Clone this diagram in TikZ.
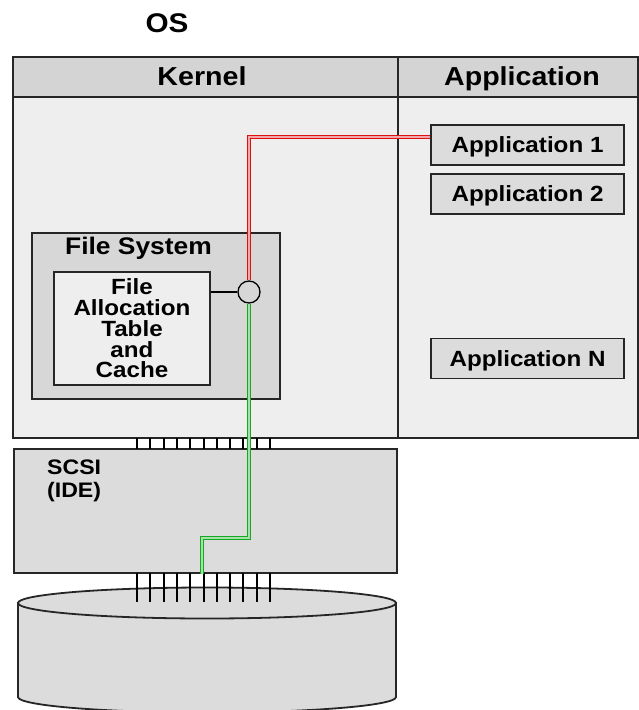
\documentclass[tikz,border=0pt]{standalone}
\usepackage{fontspec}
\setmainfont{Liberation Sans}[FakeStretch=1.1]
\usetikzlibrary{calc}
\definecolor{hdrc}{HTML}{D4D4D4}
\definecolor{bodyc}{HTML}{EEEEEE}
\definecolor{fsc}{HTML}{D7D7D7}
\definecolor{boxc}{HTML}{DCDCDC}
\definecolor{redo}{HTML}{DD1111}
\definecolor{redi}{HTML}{F2A8A8}
\definecolor{grno}{HTML}{11AA22}
\definecolor{grni}{HTML}{A8E0A8}
\tikzset{
  frame/.style={draw=black!85, line width=1.8pt},
  solidbox/.style={draw=black!85, line width=1.8pt, inner sep=0pt},
  appbox/.style={solidbox, fill=boxc, minimum width=193pt, minimum height=40pt,
    font=\fontsize{22}{26}\selectfont\bfseries, text height=15.8pt, text depth=0pt},
  hdrtext/.style={anchor=base, inner sep=0pt, font=\fontsize{26}{30}\selectfont\bfseries},
  tick/.style={draw=black, line width=2pt},
  redline/.style={draw=redo, line width=1.2pt, double=redi, double distance=1.9pt},
  grnline/.style={draw=grno, line width=1.2pt, double=grni, double distance=1.9pt}
}
\begin{document}
\begin{tikzpicture}[x=1pt,y=-1pt]
\useasboundingbox (0,0) rectangle (639,710);
\clip (0,0) rectangle (639,710);

% title
\node[inner sep=0pt, font=\fontsize{27}{30}\selectfont\bfseries] (os) at (167,23) {OS};

% OS frame
\filldraw[frame, fill=hdrc] (13,57) rectangle (638,97);
\filldraw[frame, fill=bodyc] (13,97) rectangle (638,438);
\draw[frame] (398,57) -- (398,438);
\node[hdrtext] (kern) at (202,85) {Kernel};
\node[hdrtext] (appl) at (522,85) {Application};

% applications
\node[appbox] (app1) at (527.5,145) {Application 1};
\node[appbox] (app2) at (527.5,194) {Application 2};
\node[appbox] (appN) at (527.5,358.5) {Application N};

% file system
\node[solidbox, fill=fsc, minimum width=248pt, minimum height=166pt] (fs) at (156,316) {};
\node[inner sep=0pt, font=\fontsize{24}{28}\selectfont\bfseries, text height=17.3pt, text depth=0pt] (fstitle) at (138.5,246) {File System};
\node[solidbox, fill=bodyc, minimum width=156pt, minimum height=113pt, align=center,
      font=\fontsize{22}{20.75}\selectfont\bfseries] (fat) at (132,328.5) {File\\Allocation\\Table\\and\\Cache};
\node[circle, draw=black, fill=fsc, line width=1.3pt, minimum size=22pt, inner sep=0pt] (hub) at (249,292) {};
\draw[line width=1.3pt] (hub.west) -- (hub.west -| fat.east);

% SCSI
\node[solidbox, fill=boxc, minimum width=383pt, minimum height=124pt] (scsi) at (205.5,511) {};
\node[anchor=north west, inner sep=0pt, align=left, font=\fontsize{21}{23}\selectfont\bfseries] (scsilbl) at (47,460) {SCSI\\(IDE)};

% upper connector ticks
\foreach \x in {137,150,164,177,190,204,217,230,243,257,270} {
  \draw[tick] (\x,438) -- (\x,449);
}

% disk
\filldraw[draw=black!85, line width=1.8pt, fill=boxc]
  (18,603) -- (18,697) arc[start angle=180, end angle=360, x radius=189, y radius=-15.5] -- (396,603) -- cycle;
\filldraw[draw=black!85, line width=1.8pt, fill=boxc] (207,603) ellipse [x radius=189, y radius=15.5];
\coordinate (disktop) at (207,603);

% lower connector ticks
\foreach \x in {137,150,164,177,190,204,217,230,243,257,270} {
  \draw[tick] (\x,573) -- (\x,602);
}

% data paths
\coordinate (rt) at (249,137);
\draw[redline] (hub.north) -- (rt) -- (rt -| app1.west);
\coordinate (gt) at (202,538);
\draw[grnline] (hub.south) |- (gt) -- (gt |- scsi.south);
\end{tikzpicture}
\end{document}
